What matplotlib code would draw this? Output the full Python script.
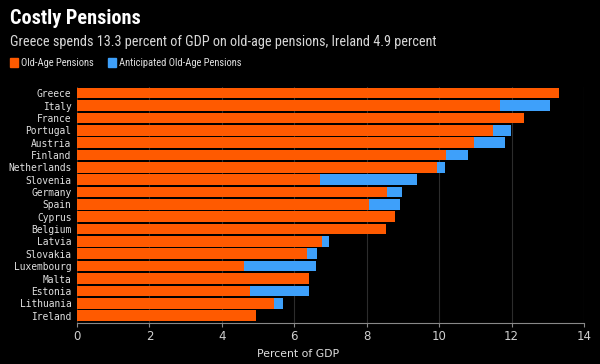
import matplotlib
matplotlib.use("Agg")
import matplotlib.pyplot as plt
from matplotlib import font_manager
import numpy as np

countries = ["Greece", "Italy", "France", "Portugal", "Austria", "Finland", "Netherlands",
             "Slovenia", "Germany", "Spain", "Cyprus", "Belgium", "Latvia", "Slovakia",
             "Luxembourg", "Malta", "Estonia", "Lithuania", "Ireland"]
old_age = [13.3, 11.68, 12.35, 11.48, 10.97, 10.18, 9.93, 6.71, 8.57, 8.05, 8.78, 8.52,
           6.76, 6.36, 4.62, 6.42, 4.79, 5.44, 4.94]
anticipated = [13.3, 13.07, 12.35, 11.98, 11.81, 10.81, 10.17, 9.38, 8.98, 8.92, 8.78, 8.52,
               6.97, 6.64, 6.59, 6.42, 6.42, 5.70, 4.94]
xticks = [0, 2, 4, 6, 8, 10, 12, 14]

ORANGE = "#ff5a00"
BLUE = "#3ea0fa"
BG = "#000000"

installed = {f.name for f in font_manager.fontManager.ttflist}
narrow = None
for cand in ["Liberation Sans Narrow", "Roboto Condensed", "DejaVu Sans Condensed", "Open Sans Condensed"]:
    if cand in installed:
        narrow = cand
        break
if narrow:
    title_font, title_size = narrow, 14.6
    sub_font, sub_size = narrow, 10.3
    leg_font, leg_size = narrow, 7.6
else:
    title_font, title_size = "DejaVu Sans", 11
    sub_font, sub_size = "DejaVu Sans", 8.1
    leg_font, leg_size = "DejaVu Sans Mono", 5.5

fig = plt.figure(figsize=(6, 3.64), dpi=100, facecolor=BG)
ax = fig.add_axes([77/600, 1-323/364, (584-77)/600, (323-87)/364], facecolor=BG)

y = np.arange(len(countries))
ant_extra = [a - o for a, o in zip(anticipated, old_age)]
ax.barh(y, old_age, height=0.86, color=ORANGE, zorder=3)
ax.barh(y, ant_extra, left=old_age, height=0.86, color=BLUE, zorder=3)

ax.set_ylim(len(countries) - 0.4, -0.5)
ax.set_xlim(0, 14)
ax.set_xticks(xticks)
ax.set_xticklabels([str(t) for t in xticks], color="#d0d0d0", fontsize=8.5)
ax.set_yticks(y)
ax.set_yticklabels(countries, family="DejaVu Sans Mono", color="#e0e0e0", fontsize=6.9)
ax.tick_params(axis="y", length=0, pad=4)
ax.tick_params(axis="x", length=3, color="#888888", pad=2)
ax.grid(axis="x", color="#2c2c2c", linewidth=0.8, zorder=0)
for s in ["top", "right", "left"]:
    ax.spines[s].set_visible(False)
ax.spines["bottom"].set_color("#888888")
ax.set_xlabel("Percent of GDP", color="#e0e0e0", fontsize=7.8)
ax.xaxis.set_label_coords((298 - 77) / 507, -(354 - 323) / (323 - 87))
ax.xaxis.label.set_va("center")

fig.text(10/600, 1-18/364, "Costly Pensions", color="white", fontsize=title_size, fontweight="bold",
         family=title_font, va="center", ha="left")
fig.text(10/600, 1-42/364, "Greece spends 13.3 percent of GDP on old-age pensions, Ireland 4.9 percent",
         color="#d8d8d8", fontsize=sub_size, family=sub_font, va="center", ha="left")

# legend
fig.patches.append(plt.Rectangle((10/600, 1-67/364), 8/600, 9/364, transform=fig.transFigure,
                                 color=ORANGE, figure=fig))
fig.text(21/600, 1-62.5/364, "Old-Age Pensions", color="#e0e0e0", fontsize=leg_size,
         family=leg_font, va="center", ha="left")
fig.patches.append(plt.Rectangle((108/600, 1-67/364), 8/600, 9/364, transform=fig.transFigure,
                                 color=BLUE, figure=fig))
fig.text(119/600, 1-62.5/364, "Anticipated Old-Age Pensions", color="#e0e0e0", fontsize=leg_size,
         family=leg_font, va="center", ha="left")

fig.savefig("out.png", dpi=100, facecolor=BG)
